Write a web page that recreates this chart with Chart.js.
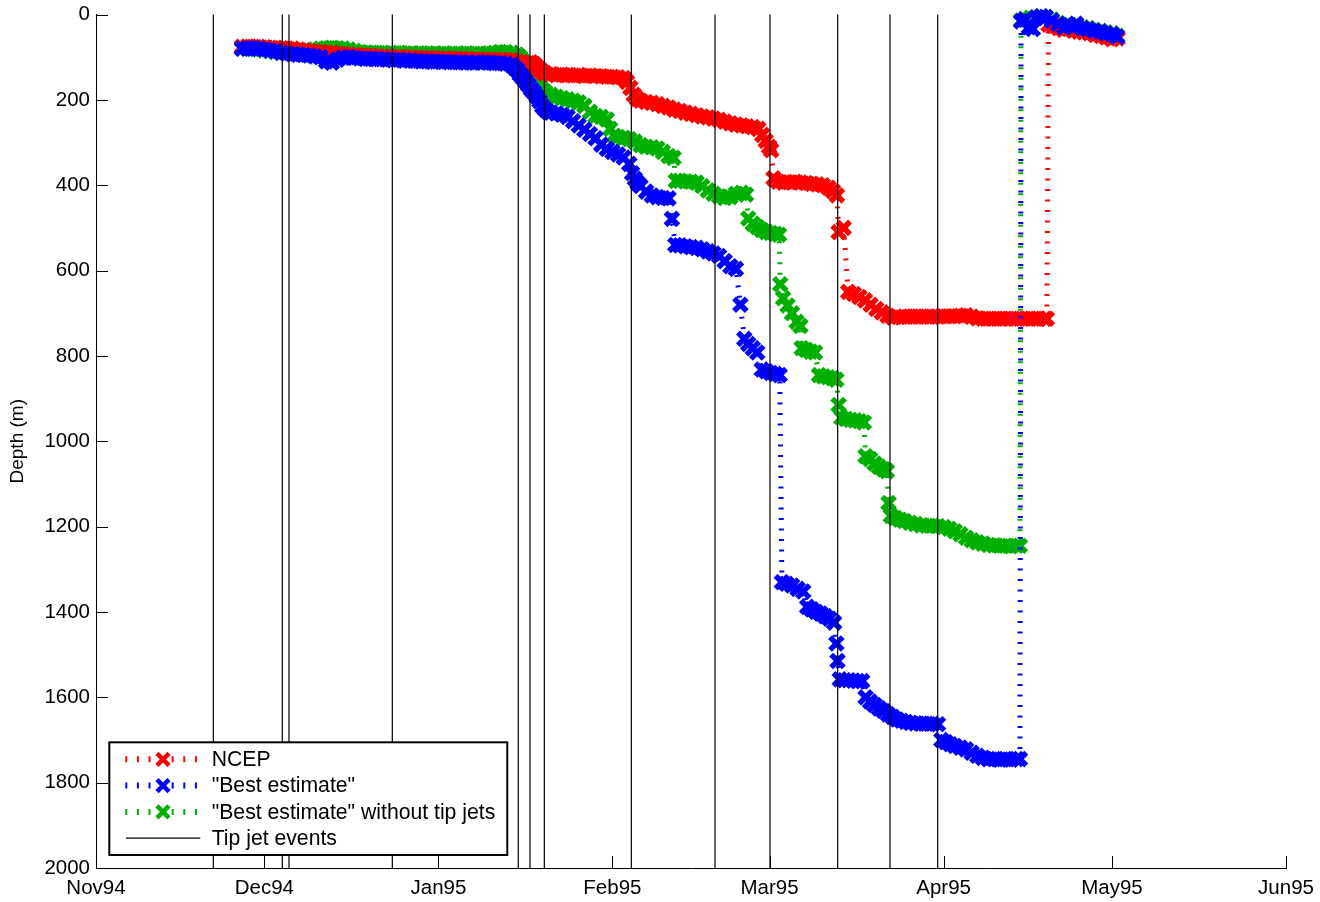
<!DOCTYPE html>
<html>
<head>
<meta charset="utf-8">
<script src="https://cdn.jsdelivr.net/npm/chart.js@4.4.1/dist/chart.umd.min.js"></script>
<style>
  html, body { margin: 0; padding: 0; background: #fff; }
  canvas { display: block; }
</style>
</head>
<body>
<canvas id="depthChart" width="1320" height="902"></canvas>
<script>
// Time is counted in days since 1 Nov 1994 00:00 UTC; depth in metres.
const EPOCH = '1994-11-01';

const monthStarts = ['1994-11-01', '1994-12-01', '1995-01-01', '1995-02-01',
                     '1995-03-01', '1995-04-01', '1995-05-01', '1995-06-01'];
const monthLabels = ['Nov94', 'Dec94', 'Jan95', 'Feb95', 'Mar95', 'Apr95', 'May95', 'Jun95'];
const depthTicks = [0, 200, 400, 600, 800, 1000, 1200, 1400, 1600, 1800, 2000];

// Tip jet events (day)
const tipJetDays = [20.9, 33.19, 34.38, 52.79, 75.23, 77.32, 79.87, 95.37,
                    110.28, 120.07, 132.13, 141.45, 149.95];

// Mixed-layer depth, NCEP forcing: [day, depth]
const ncep = [
  [26,76],[27,75],[28,76],[29,76],[30,77],[31,78],[32,78],[33,79],[34,80],[35,80],
  [36,82],[37,84],[38,86],[39,87],[40,88],[41,89],[42,90],[43,92],[44,93],[45,94],
  [46,95],[47,96],[48,97],[49,97],[50,98],[51,99],[52,99],[53,100],[54,100],[55,101],
  [56,101],[57,102],[58,102],[59,102],[60,103],[61,103],[62,103],[63,104],[64,104],[65,104],
  [66,105],[67,105],[68,105],[69,106],[70,106],[71,106],[72,106],[73,107],[74,107],[75,110],
  [75.5,114],[76,118],[76.5,120],[77,114],[77.5,112],[78,116],[78.5,122],[79,128],[79.5,134],[80,138],
  [81,140],[82,142],[83,141],[84,142],[85,143],[86,142],[87,144],[88,143],[89,144],[90,145],
  [91,146],[92,146],[93,147],[94,149],[94.6,158],[95.2,172],[95.8,188],[96.4,198],[97,202],[98,205],
  [99,207],[100,210],[101,214],[102,218],[103,223],[104,226],[105,230],[106,233],[107,236],[108,239],
  [109,241],[110,244],[111,247],[112,251],[113,255],[114,258],[115,260],[116,262],[117,264],[118,268],
  [118.7,282],[119.3,296],[119.9,310],[120.3,318],[120.7,384],[121.5,392],[122.5,394],[123.5,393],[124.5,392],[125.5,394],
  [126.5,395],[127.5,397],[128.5,398],[129.5,400],[130.5,406],[131.3,414],[132,424],[132.3,510],[133.2,500],[134,650],
  [135,655],[136,662],[137,670],[138,680],[139,690],[140,698],[141,706],[142,710],[143,709],[144,708],
  [145,708],[146,708],[147,708],[148,708],[149,708],[150,708],[151,707],[152,707],[153,707],[154,706],
  [155,705],[156,708],[157,712],[158,713],[159,713],[160,713],[161,713],[162,713],[163,713],[164,713],
  [165,713],[166,713],[167,713],[168,713],[169,713],[169.4,713],[169.7,24],[170.6,26],[171.5,32],[172.4,36],
  [173.3,34],[174.2,38],[175.1,40],[176,42],[177,44],[178,48],[179,50],[180,54],[181,58],[182,56]
];

// "Best estimate" forcing: [day, depth]
const bestEstimate = [
  [26,80],[27,80],[28,79],[29,80],[30,82],[31,84],[32,86],[33,90],[34,92],[35,93],
  [36,94],[37,95],[38,96],[39,98],[40,100],[41,110],[42,113],[43,106],[44,101],[45,100],
  [46,102],[47,103],[48,104],[49,104],[50,105],[51,105],[52,106],[53,107],[54,106],[55,108],
  [56,108],[57,109],[58,110],[59,110],[60,111],[61,110],[62,111],[63,112],[64,112],[65,112],
  [66,113],[67,113],[68,112],[69,113],[70,113],[71,114],[72,114],[73,115],[74,118],[74.5,124],
  [75,130],[75.5,140],[76,148],[76.5,156],[77,165],[77.5,175],[78,182],[78.5,192],[79,203],[79.5,215],
  [80,222],[80.5,228],[81,230],[82,232],[83,235],[84,240],[85,250],[86,260],[87,270],[88,280],
  [89,290],[90,305],[91,315],[92,322],[93,328],[94,335],[95,350],[95.5,372],[96,385],[96.5,395],
  [97,402],[98,415],[99,424],[100,428],[101,430],[102,431],[102.6,479],[103.2,540],[104,541],[105,543],
  [106,545],[107,547],[108,550],[109,555],[110,560],[111,566],[112,578],[113,590],[114,596],[114.8,680],
  [115.5,760],[116.2,772],[117,782],[117.8,792],[118.6,832],[119.4,836],[120.2,840],[121,842],[121.8,845],[122.2,1330],
  [123,1334],[124,1338],[125,1346],[126,1352],[126.7,1388],[127.5,1394],[128.3,1400],[129.1,1404],[129.9,1410],[130.7,1416],
  [131.5,1425],[131.9,1474],[132.1,1515],[132.5,1558],[133.3,1560],[134.1,1560],[134.9,1561],[135.7,1562],[136.5,1562],[137.1,1600],
  [137.9,1610],[138.7,1618],[139.5,1626],[140.3,1632],[141.1,1640],[141.9,1646],[142.7,1652],[143.5,1655],[144.3,1658],[145.1,1660],
  [146,1661],[147,1662],[148,1662],[149,1662],[150,1663],[150.6,1700],[151.4,1705],[152.2,1710],[153,1714],[154,1718],
  [155,1722],[156,1730],[157,1737],[158,1742],[159,1745],[160,1745],[161,1746],[162,1745],[163,1746],[164,1745],
  [164.6,1745],[164.8,16],[165.5,12],[166.2,30],[166.9,34],[167.5,8],[168.4,4],[169.2,6],[170.3,14],[171.4,22],
  [172.5,30],[173.5,26],[174.6,22],[175.7,32],[176.7,34],[177.8,38],[178.9,40],[179.9,44],[181,46],[181.9,52]
];

// "Best estimate" forcing with tip jets removed: [day, depth]
const noTipJets = [
  [26,80],[27,80],[28,81],[29,82],[30,84],[31,86],[32,88],[33,88],[34,87],[35,86],
  [36,86],[37,85],[38,84],[39,82],[40,80],[41,79],[42,78],[43,79],[44,80],[45,82],
  [46,85],[47,88],[48,89],[49,90],[50,90],[51,90],[52,91],[53,91],[54,90],[55,91],
  [56,91],[57,92],[58,91],[59,91],[60,92],[61,92],[62,91],[63,92],[64,92],[65,92],
  [66,91],[67,92],[68,92],[69,92],[70,91],[71,90],[72,88],[73,88],[74,90],[75,94],
  [75.5,100],[76,108],[76.5,118],[77,128],[77.5,140],[78,150],[78.5,160],[79,168],[79.5,176],[80,182],
  [81,188],[82,193],[83,196],[84,199],[85,202],[86,206],[87,214],[88,228],[89,238],[90,240],
  [91,246],[91.6,268],[92.3,284],[93,287],[94,289],[95,292],[96,298],[97,306],[98,310],[99,311],
  [100,314],[101,322],[102,332],[102.9,336],[103.3,390],[104,390],[105,391],[106,392],[107,394],[108,402],
  [109,412],[110,420],[111,426],[112,430],[113,428],[114,420],[115,418],[115.8,422],[116.2,478],[117,490],
  [117.8,498],[118.6,505],[119.4,510],[120.2,512],[121,514],[121.7,516],[121.9,632],[122.4,665],[123.2,682],[124,700],
  [124.8,720],[125.5,730],[125.7,782],[126.5,786],[127.3,790],[128.1,792],[128.8,845],[129.6,848],[130.4,850],[131.2,852],
  [131.9,856],[132.3,915],[132.8,945],[133.6,948],[134.4,950],[135.2,951],[136,953],[136.8,956],[137.1,1035],[137.9,1042],
  [138.7,1052],[139.5,1060],[140.3,1066],[140.9,1070],[141.2,1145],[141.6,1175],[142.4,1180],[143.2,1184],[144,1187],[145,1191],
  [146,1194],[147,1197],[148,1198],[149,1198],[150,1199],[151,1201],[152,1205],[153,1211],[154,1218],[155,1226],
  [156,1232],[157,1237],[158,1240],[159,1243],[160,1244],[161,1245],[162,1245],[163,1246],[164,1245],[164.6,1245],
  [164.8,14],[165.5,10],[166.5,8],[167.5,6],[168.4,4],[169.2,6],[170.3,12],[171.4,20],[172.5,26],[173.5,24],
  [174.6,22],[175.7,30],[176.7,32],[177.8,36],[178.9,38],[179.9,42],[181,44],[181.9,50]
];

const LEGEND_ORDER = ['NCEP', '"Best estimate"', '"Best estimate" without tip jets', 'Tip jet events'];

const dayOf = s => (Date.parse(s + 'T00:00:00Z') - Date.parse(EPOCH + 'T00:00:00Z')) / 86400000;
const monthDays = monthStarts.map(dayOf);
const toXY = pts => pts.map(([d, v]) => ({ x: d, y: v }));

// Each tip jet event is a full-height vertical segment; null breaks the path between events.
const tipJetSegments = [];
tipJetDays.forEach(d => tipJetSegments.push({ x: d, y: 0 }, { x: d, y: 2000 }, { x: d, y: null }));

const FONT = '"Liberation Sans", Arial, Helvetica, sans-serif';
Chart.defaults.font.family = FONT;
Chart.defaults.color = '#000';

const SERIES_DASH = [2, 8.5];
const MARK_RADIUS = 9;
const MARK_WIDTH = 5.5;

function seriesDataset(label, points, color) {
  return {
    label,
    data: toXY(points),
    borderColor: color,
    backgroundColor: color,
    borderWidth: 5,
    borderDash: SERIES_DASH,
    borderCapStyle: 'butt',
    tension: 0,
    fill: false,
    pointStyle: 'crossRot',
    pointRadius: MARK_RADIUS,
    pointBorderWidth: MARK_WIDTH,
    pointBorderColor: color,
    pointBackgroundColor: color,
    clip: false
  };
}

// Tick marks pointing into the plot, at every tick of both axes.
const inwardTicks = {
  id: 'inwardTicks',
  afterDatasetsDraw(chart) {
    const { ctx, chartArea: a, scales } = chart;
    const len = 12;
    ctx.save();
    ctx.strokeStyle = '#000';
    ctx.lineWidth = 1;
    ctx.beginPath();
    scales.x.ticks.forEach(t => {
      const p = Math.round(scales.x.getPixelForValue(t.value)) + 0.5;
      ctx.moveTo(p, a.bottom);
      ctx.lineTo(p, a.bottom - len);
    });
    scales.y.ticks.forEach(t => {
      const p = Math.round(scales.y.getPixelForValue(t.value)) + 0.5;
      ctx.moveTo(a.left, p);
      ctx.lineTo(a.left + len, p);
    });
    ctx.stroke();
    ctx.restore();
  }
};

// Boxed legend in the lower-left corner of the plot area.
const boxLegend = {
  id: 'boxLegend',
  afterDraw(chart) {
    const { ctx, chartArea: a } = chart;
    const x0 = a.left + 13.3, y0 = a.bottom - 125.7, w = 398, h = 112.7;
    ctx.save();
    ctx.fillStyle = '#fff';
    ctx.fillRect(x0, y0, w, h);
    ctx.strokeStyle = '#000';
    ctx.lineWidth = 2;
    ctx.strokeRect(x0, y0, w, h);
    ctx.font = '21.2px ' + FONT;
    ctx.textBaseline = 'middle';
    ctx.textAlign = 'left';
    LEGEND_ORDER.forEach((label, i) => {
      const ds = chart.data.datasets.find(d => d.label === label);
      const yy = y0 + 17 + i * 26.3;
      const lx0 = x0 + 16, lx1 = x0 + 92, mx = x0 + 53.7;
      ctx.save();
      if (ds.pointRadius > 0) {
        ctx.strokeStyle = ds.borderColor;
        ctx.lineWidth = 6;
        ctx.setLineDash([2, 9.6]);
        ctx.beginPath();
        ctx.moveTo(lx0, yy);
        ctx.lineTo(lx1, yy);
        ctx.stroke();
        ctx.setLineDash([]);
        const o = 8.5 * Math.SQRT1_2;
        ctx.lineWidth = 4.5;
        ctx.beginPath();
        ctx.moveTo(mx - o, yy - o); ctx.lineTo(mx + o, yy + o);
        ctx.moveTo(mx - o, yy + o); ctx.lineTo(mx + o, yy - o);
        ctx.stroke();
      } else {
        ctx.strokeStyle = ds.borderColor;
        ctx.lineWidth = 1.3;
        ctx.beginPath();
        ctx.moveTo(lx0 + 0.7, yy);
        ctx.lineTo(lx1 - 1, yy);
        ctx.stroke();
      }
      ctx.restore();
      ctx.fillStyle = '#000';
      ctx.fillText(label, x0 + 102.4, yy + 1);
    });
    ctx.restore();
  }
};

new Chart(document.getElementById('depthChart'), {
  type: 'line',
  data: {
    datasets: [
      {
        label: 'Tip jet events',
        data: tipJetSegments,
        borderColor: '#000',
        borderWidth: 1.2,
        pointRadius: 0,
        spanGaps: false,
        tension: 0,
        fill: false,
        clip: false
      },
      seriesDataset('"Best estimate"', bestEstimate, '#0000ff'),
      seriesDataset('NCEP', ncep, '#ff0000'),
      seriesDataset('"Best estimate" without tip jets', noTipJets, '#00b000')
    ]
  },
  options: {
    responsive: false,
    animation: false,
    devicePixelRatio: 1,
    events: [],
    layout: { padding: { top: 13, right: 34, left: 0, bottom: 0 } },
    plugins: { legend: { display: false }, tooltip: { enabled: false } },
    scales: {
      x: {
        type: 'linear',
        min: monthDays[0],
        max: monthDays[monthDays.length - 1],
        afterBuildTicks: s => { s.ticks = monthDays.map(v => ({ value: v })); },
        afterFit: s => { s.height = 34; s.paddingLeft = 0; s.paddingRight = 0; },
        grid: { display: true, drawOnChartArea: false, drawTicks: false },
        border: { display: true, color: '#000', width: 1 },
        ticks: {
          autoSkip: false, maxRotation: 0, minRotation: 0, padding: 8,
          color: '#000', font: { size: 20.5 },
          callback: (v, i) => monthLabels[i]
        }
      },
      y: {
        type: 'linear',
        reverse: true,
        min: depthTicks[0],
        max: depthTicks[depthTicks.length - 1],
        afterBuildTicks: s => { s.ticks = depthTicks.map(v => ({ value: v })); },
        afterFit: s => { s.width = 96; s.paddingTop = 0; s.paddingBottom = 0; },
        grid: { display: true, drawOnChartArea: false, drawTicks: false },
        border: { display: true, color: '#000', width: 1 },
        ticks: { padding: 6, color: '#000', font: { size: 20.5 }, callback: v => String(v) },
        title: {
          display: true, text: 'Depth (m)', color: '#000',
          font: { size: 19 }, padding: { top: 6, bottom: 0 }
        }
      }
    }
  },
  plugins: [inwardTicks, boxLegend]
});
</script>
</body>
</html>
